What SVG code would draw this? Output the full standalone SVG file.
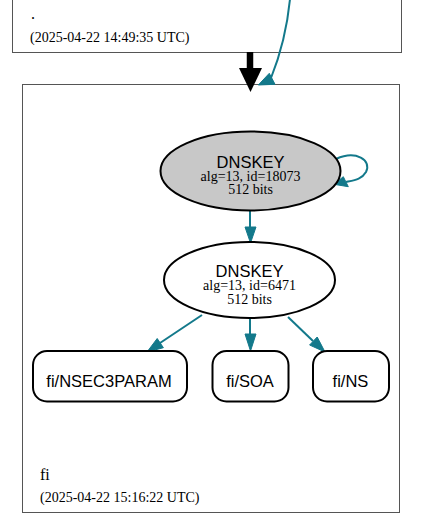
<svg xmlns="http://www.w3.org/2000/svg" width="427" height="530" viewBox="0 0 427 530">
<style>
.cl{fill:#fff;stroke:#555;stroke-width:1}
.sans{font-family:"Liberation Sans",Arial,sans-serif;font-size:16.5px;fill:#000}
.serif{font-family:"Liberation Serif","Times New Roman",serif;font-size:14px;fill:#000}
.big{font-family:"Liberation Serif","Times New Roman",serif;font-size:16px;fill:#000}
.node{stroke:#000;stroke-width:2}
.edge{fill:none;stroke:#13798b;stroke-width:2}
.head{fill:#13798b;stroke:#13798b;stroke-width:1}
</style>
<rect width="427" height="530" fill="#fff"/>
<g id="cluster-root">
<rect class="cl" x="12.5" y="-20" width="389" height="72.5"/>
<text class="big" x="31" y="19">.</text>
<text class="serif" x="30" y="42">(2025-04-22 14:49:35 UTC)</text>
</g>
<g id="cluster-fi">
<rect class="cl" x="22.5" y="84.5" width="377" height="428"/>
<text class="big" x="40" y="480">fi</text>
<text class="serif" x="40" y="502">(2025-04-22 15:16:22 UTC)</text>
</g>
<g id="connectors">
<line x1="250" y1="52" x2="250" y2="72" stroke="#000" stroke-width="6.5"/>
<polygon points="239,68 262,68 250.5,92" fill="#000"/>
<path class="edge" d="M290,-1 C287,30 279,58 271,78"/>
<polygon class="head" points="258.3,85 269.3,73.3 275,84.3"/>
<path class="edge" d="M336,159 C356,150 372,160 366,172 C362,179 355,180 346,182"/>
<polygon class="head" points="334,184.3 343.3,176.7 348.3,186.7"/>
<line class="edge" x1="250" y1="211" x2="250" y2="228"/>
<polygon class="head" points="245,227 256,227 250.5,243"/>
<line class="edge" x1="202" y1="315" x2="160" y2="343"/>
<polygon class="head" points="147,352 157.2,338.5 163.4,347.7"/>
<line class="edge" x1="250" y1="318" x2="250" y2="334"/>
<polygon class="head" points="245,334 256,334 250.5,351"/>
<line class="edge" x1="288" y1="317" x2="313" y2="341"/>
<polygon class="head" points="325,352 309.6,345 317.2,337"/>
</g>
<g id="dnskey-18073">
<ellipse class="node" cx="250.5" cy="171" rx="90" ry="39.5" fill="#c8c8c8"/>
<text class="sans" x="250.5" y="168" text-anchor="middle">DNSKEY</text>
<text class="serif" x="250.5" y="181" text-anchor="middle">alg=13, id=18073</text>
<text class="serif" x="250.5" y="194" text-anchor="middle">512 bits</text>
</g>
<g id="dnskey-6471">
<ellipse class="node" cx="249.5" cy="280" rx="85.5" ry="38" fill="#fff"/>
<text class="sans" x="249.5" y="277" text-anchor="middle">DNSKEY</text>
<text class="serif" x="249.5" y="290" text-anchor="middle">alg=13, id=6471</text>
<text class="serif" x="249.5" y="304" text-anchor="middle">512 bits</text>
</g>
<g id="rr-nsec3param">
<rect class="node" x="33" y="351" width="154" height="50.5" rx="14" fill="#fff"/>
<text class="sans" x="109" y="387" text-anchor="middle">fi/NSEC3PARAM</text>
</g>
<g id="rr-soa">
<rect class="node" x="212.5" y="351" width="76" height="50.5" rx="14" fill="#fff"/>
<text class="sans" x="250" y="387" text-anchor="middle">fi/SOA</text>
</g>
<g id="rr-ns">
<rect class="node" x="313" y="351" width="76" height="50.5" rx="14" fill="#fff"/>
<text class="sans" x="350.5" y="387" text-anchor="middle">fi/NS</text>
</g>
</svg>
